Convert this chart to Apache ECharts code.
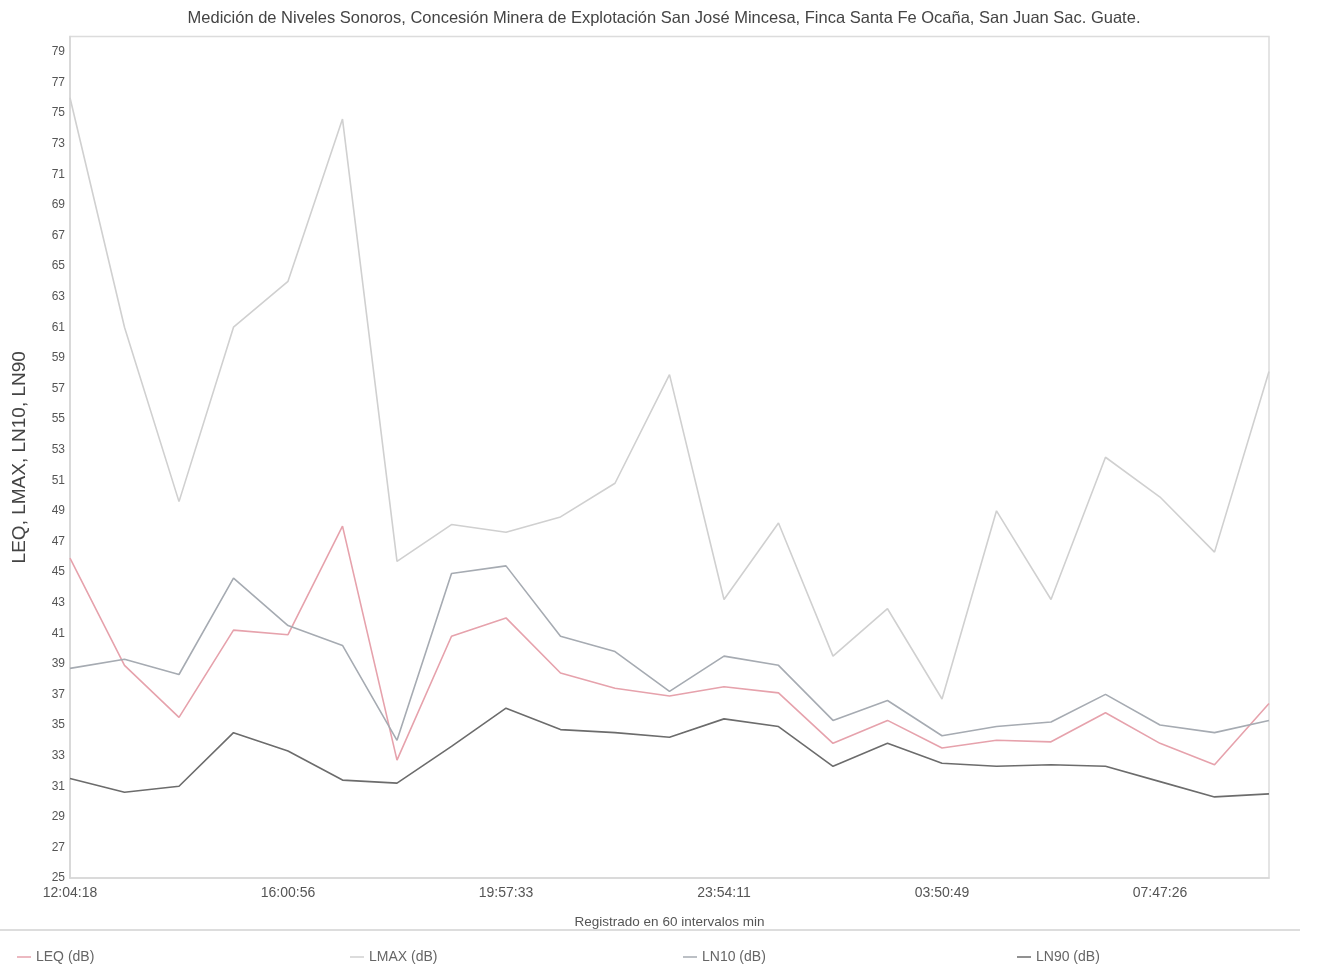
<!DOCTYPE html>
<html>
<head>
<meta charset="utf-8">
<title>Niveles Sonoros</title>
<script src="https://cdn.jsdelivr.net/npm/echarts@6/dist/echarts.min.js"></script>
<style>
  html, body { margin: 0; padding: 0; background: #ffffff; }
  #chart { width: 1328px; height: 964px; }
</style>
</head>
<body>
<div id="chart"></div>
<script>
// Horas de registro (intervalos de ~60 min)
const horas = [
  '12:04:18', '13:03:28', '14:02:37', '15:01:47', '16:00:56', '17:00:05',
  '17:59:15', '18:58:24', '19:57:33', '20:56:43', '21:55:52', '22:55:02',
  '23:54:11', '00:53:20', '01:52:30', '02:51:39', '03:50:49', '04:49:58',
  '05:49:07', '06:48:17', '07:47:26', '08:46:36', '09:45:45'
];

// Niveles sonoros en dB
const leq = [45.9, 38.9, 35.5, 41.2, 40.9, 48.0, 32.7, 40.8, 42.0, 38.4, 37.4, 36.9,
             37.5, 37.1, 33.8, 35.3, 33.5, 34.0, 33.9, 35.8, 33.8, 32.4, 36.4];
const lmax = [76.0, 61.0, 49.6, 61.0, 64.0, 74.6, 45.7, 48.1, 47.6, 48.6, 50.8, 57.9,
              43.2, 48.2, 39.5, 42.6, 36.7, 49.0, 43.2, 52.5, 49.9, 46.3, 58.1];
const ln10 = [38.7, 39.3, 38.3, 44.6, 41.5, 40.2, 34.0, 44.9, 45.4, 40.8, 39.8, 37.2,
              39.5, 38.9, 35.3, 36.6, 34.3, 34.9, 35.2, 37.0, 35.0, 34.5, 35.3];
const ln90 = [31.5, 30.6, 31.0, 34.5, 33.3, 31.4, 31.2, 33.6, 36.1, 34.7, 34.5, 34.2,
              35.4, 34.9, 32.3, 33.8, 32.5, 32.3, 32.4, 32.3, 31.3, 30.3, 30.5];

const nombres = ['LEQ (dB)', 'LMAX (dB)', 'LN10 (dB)', 'LN90 (dB)'];
const valores = [leq, lmax, ln10, ln90];
const colores = ['#e6a2ac', '#d0d0d0', '#a6abb2', '#6c6c6c'];
const legendLeft = [12, 345, 678, 1012];

const FONT = '"Liberation Sans", Arial, sans-serif';

const chart = echarts.init(document.getElementById('chart'), null, { renderer: 'canvas' });

chart.setOption({
  backgroundColor: '#ffffff',
  animation: false,
  title: {
    text: 'Medición de Niveles Sonoros, Concesión Minera de Explotación San José Mincesa, Finca Santa Fe Ocaña, San Juan Sac. Guate.',
    left: 'center',
    top: 5,
    textStyle: { fontFamily: FONT, fontSize: 16.5, fontWeight: 'normal', color: '#444' }
  },
  legend: nombres.map((n, i) => ({
    data: [n],
    left: legendLeft[i],
    top: 945,
    icon: 'rect',
    itemWidth: 14,
    itemHeight: 1.5,
    itemGap: 8,
    textStyle: { fontFamily: FONT, fontSize: 14, color: '#666' }
  })),
  grid: {
    left: 70,
    right: 59,
    top: 36.5,
    bottom: 86,
    outerBoundsMode: 'none',
    containLabel: false,
    show: true,
    borderColor: '#dcdcdc',
    borderWidth: 1.5
  },
  xAxis: {
    type: 'category',
    data: horas,
    boundaryGap: false,
    name: 'Registrado en 60 intervalos min',
    nameLocation: 'middle',
    nameGap: 37,
    nameTextStyle: { fontFamily: FONT, fontSize: 13.5, color: '#555' },
    axisLine: { lineStyle: { color: '#d6d6d6', width: 1.5 } },
    axisTick: { show: false },
    axisLabel: { interval: 3, margin: 8, fontFamily: FONT, fontSize: 14, color: '#555' },
    splitLine: { show: false }
  },
  yAxis: {
    type: 'value',
    min: 25,
    max: 80,
    interval: 2,
    name: 'LEQ, LMAX, LN10, LN90',
    nameLocation: 'middle',
    nameGap: 41,
    nameTextStyle: { fontFamily: FONT, fontSize: 19, color: '#444' },
    axisLine: { show: true, lineStyle: { color: '#d6d6d6', width: 1.5 } },
    axisTick: { show: false },
    axisLabel: { showMaxLabel: false, margin: 5, fontFamily: FONT, fontSize: 12, color: '#555' },
    splitLine: { show: false }
  },
  graphic: [{
    type: 'line',
    shape: { x1: 0, y1: 930, x2: 1300, y2: 930 },
    style: { stroke: '#dddddd', lineWidth: 2 }
  }],
  series: [1, 2, 0, 3].map(i => ({
    name: nombres[i],
    type: 'line',
    data: valores[i],
    symbol: 'none',
    color: colores[i],
    lineStyle: { color: colores[i], width: 1.6 },
    z: 2 + i
  }))
});
</script>
</body>
</html>
